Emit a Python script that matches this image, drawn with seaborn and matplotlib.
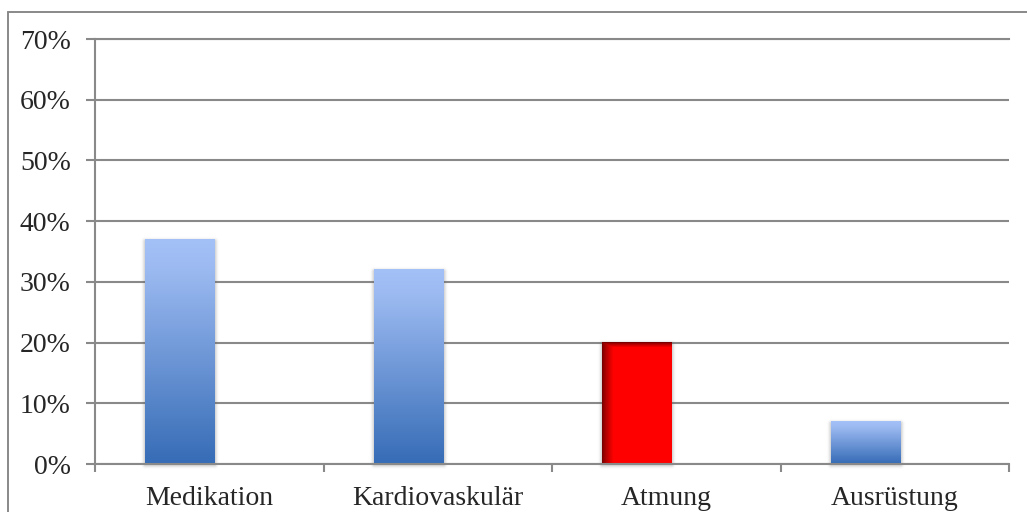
import numpy as np
import pandas as pd
import matplotlib
matplotlib.use("Agg")
import matplotlib.pyplot as plt
import seaborn as sns
from matplotlib.colors import to_rgb
from matplotlib.ticker import PercentFormatter
from matplotlib.lines import Line2D

# Chart data
categories = ["Medikation", "Kardiovaskulär", "Atmung", "Ausrüstung"]
shares = [0.37, 0.32, 0.20, 0.07]
highlight = ["Atmung"]
y_ticks = [0.0, 0.1, 0.2, 0.3, 0.4, 0.5, 0.6, 0.7]

sns.set_theme(style="white")
plt.rcParams["font.family"] = ["Liberation Serif", "DejaVu Serif"]
plt.rcParams["font.size"] = 20

GRID = "#898989"
BLUE_TOP = np.array(to_rgb("#a3c1f7"))
BLUE_MID = np.array(to_rgb("#9dbbf2"))
BLUE_BOT = np.array(to_rgb("#366cb6"))
RED = np.array(to_rgb("#ff0000"))
DARK_RED = np.array(to_rgb("#7a0000"))

fig = plt.figure(figsize=(10.27, 5.12), dpi=100)
ax = fig.add_axes([95 / 1027, 48 / 512, 914 / 1027, 425 / 512])

df = pd.DataFrame({"Kategorie": categories, "Anteil": shares})
sns.barplot(data=df, x="Kategorie", y="Anteil", width=0.302, ax=ax,
            color="#5b8ad6", saturation=1, errorbar=None)

ax.set_xlim(-0.5, 3.5)
ax.set_ylim(0, 0.7)
ax.set_xlabel("")
ax.set_ylabel("")
ax.set_yticks(y_ticks)
ax.yaxis.set_major_formatter(PercentFormatter(1.0, decimals=0))
ax.set_xticks(range(len(categories)))
ax.set_xticklabels(categories)
ax.set_xticks([-0.5, 0.5, 1.5, 2.5, 3.5], minor=True)

ax.set_axisbelow(True)
ax.yaxis.grid(True, color=GRID, lw=1.5)
ax.xaxis.grid(False)
for side in ["left", "bottom", "top"]:
    ax.spines[side].set_visible(True)
    ax.spines[side].set_color(GRID)
    ax.spines[side].set_linewidth(1.5)
ax.spines["right"].set_visible(False)

ax.tick_params(axis="y", which="major", length=6.5, width=1.5, color=GRID,
               pad=11, left=True, labelsize=20)
ax.tick_params(axis="x", which="major", length=0, pad=16, labelsize=20)
ax.tick_params(axis="x", which="minor", length=5.5, width=1.5, color=GRID,
               bottom=True, direction="out")

fig.canvas.draw()
# size of one pixel in data units
px_x = 1.0 / (ax.transData.transform((1, 0))[0] - ax.transData.transform((0, 0))[0])
px_y = 1.0 / (ax.transData.transform((0, 1))[1] - ax.transData.transform((0, 0))[1])

shift = -0.129
for patch, cat in zip(ax.patches, categories):
    x0 = patch.get_x() + shift
    w = patch.get_width()
    h = patch.get_height()
    patch.set_x(x0)
    patch.set_alpha(0)

    wp = int(round(w / px_x))
    hp = max(int(round(h / px_y)), 2)

    # soft drop shadow around the bar
    pad = 7
    yy, xx = np.mgrid[0:hp + 2 * pad, 0:wp + 2 * pad]
    dx = np.maximum(0, np.maximum(pad - xx, xx - (pad + wp - 1)))
    dy = np.maximum(0, np.maximum(pad + 2 - yy, yy - (pad + hp)))
    d = np.hypot(dx, dy)
    sh = 0.28 * np.exp(-(d / 2.6) ** 2)
    rgba_sh = np.zeros(sh.shape + (4,))
    rgba_sh[..., :3] = 0.35
    rgba_sh[..., 3] = sh
    ax.imshow(rgba_sh, extent=[x0 - pad * px_x, x0 + w + pad * px_x,
                               -pad * px_y, h + pad * px_y],
              origin="upper", aspect="auto", zorder=1.5, interpolation="bilinear",
              clip_on=False)

    if cat in highlight:
        xs = np.arange(wp)[None, :]
        ys = np.arange(hp)[:, None]
        fx = np.clip(xs / 11.0, 0, 1)
        fy = np.clip(ys / 5.0, 0, 1)
        f = np.minimum(fx, fy) ** 0.8
        img = DARK_RED + (RED - DARK_RED) * f[..., None]
    else:
        t = np.linspace(0, 1, hp)[:, None]
        # light top band, then darkening towards the base
        col = np.where(t < 0.12, BLUE_TOP + (BLUE_MID - BLUE_TOP) * (t / 0.12),
                       BLUE_MID + (BLUE_BOT - BLUE_MID) * ((t - 0.12) / 0.88))
        img = np.repeat(col[:, None, :], wp, axis=1)
    ax.imshow(img, extent=[x0, x0 + w, 0, h], origin="upper", aspect="auto",
              zorder=2, interpolation="bilinear")

ax.set_xlim(-0.5, 3.5)
ax.set_ylim(0, 0.7)

# outer frame of the chart area
fig.add_artist(Line2D([8 / 1027, 8 / 1027], [0, 1 - 12 / 512],
                      transform=fig.transFigure, color=GRID, lw=1.4))
fig.add_artist(Line2D([8 / 1027, 1], [1 - 12 / 512, 1 - 12 / 512],
                      transform=fig.transFigure, color=GRID, lw=1.4))

fig.savefig("out.png", dpi=100, facecolor="white")
